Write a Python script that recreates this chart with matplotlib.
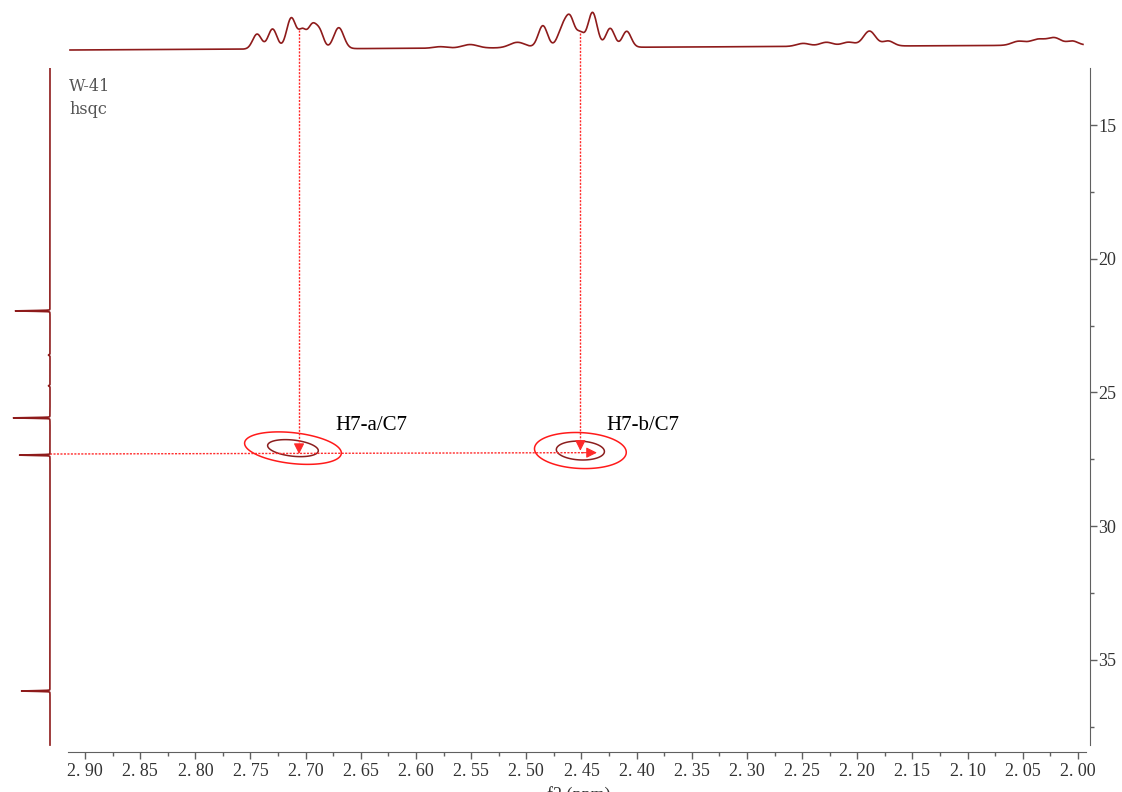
import numpy as np
import matplotlib
matplotlib.use("Agg")
import matplotlib.pyplot as plt
from matplotlib.ticker import MultipleLocator, FuncFormatter

plt.rcParams['font.family'] = ['Liberation Serif', 'DejaVu Serif']

# ---- data -----------------------------------------------------------------
# 1H projection (f2): peak positions (ppm), heights, widths (ppm, gaussian sigma)
h_pos = [2.744, 2.730, 2.713, 2.703, 2.694, 2.687, 2.670,
         2.578, 2.551, 2.508, 2.485, 2.467, 2.460, 2.451, 2.440, 2.424, 2.409,
         2.249, 2.228, 2.208, 2.189, 2.172, 2.054, 2.036, 2.021, 2.005]
h_amp = [15, 20, 31, 17, 23, 15, 21,
         1.5, 3.5, 5.5, 22, 19, 26, 13, 35, 19, 16,
         3, 4, 4, 15, 5, 4, 6, 7, 4]
h_wid = [0.0040, 0.0040, 0.0042, 0.0035, 0.0040, 0.0035, 0.0045,
         0.0060, 0.0070, 0.0070, 0.0042, 0.0045, 0.0040, 0.0035, 0.0042, 0.0040, 0.0040,
         0.0060, 0.0060, 0.0060, 0.0055, 0.0050, 0.0060, 0.0070, 0.0060, 0.0050]
h_drift = 5.4  # baseline rise across the window

# 13C projection (f1): peak positions (ppm), heights, widths
c_pos = [21.95, 23.60, 24.75, 25.95, 27.34, 36.16]
c_amp = [34, 1.5, 1.5, 36, 30, 28]
c_wid = [0.035, 0.05, 0.05, 0.035, 0.035, 0.035]

# HSQC cross peaks: f2 (ppm), f1 (ppm), sigma f2, sigma f1, correlation
cp_labels = ['H7-a/C7', 'H7-b/C7']
cp_f2 = [2.7115, 2.4510]
cp_f1 = [27.08, 27.17]
cp_sx = [0.0195, 0.0185]
cp_sy = [0.27, 0.30]
cp_rho = [-0.30, -0.10]
contour_levels = [0.08, 0.5]

# f1 correlation line used for the arrows
c7_shift = 27.30

x_major = 0.05
y_major = 5

# ---- figure layout --------------------------------------------------------
W, H = 1122, 792
fig = plt.figure(figsize=(W / 100, H / 100), dpi=100)

def fig_rect(x0, y0, x1, y1):
    return [x0 / W, 1 - y1 / H, (x1 - x0) / W, (y1 - y0) / H]

xlim = (2.9154, 1.9891)
ylim = (38.44, 12.869)

ax = fig.add_axes(fig_rect(68, 68, 1090, 752))
ax.set_xlim(*xlim)
ax.set_ylim(*ylim)

axis_color = '#606060'
for s in ['top', 'left']:
    ax.spines[s].set_visible(False)
ax.spines['bottom'].set_color(axis_color)
ax.spines['right'].set_color(axis_color)
ax.spines['bottom'].set_bounds(xlim[0], 1.9930)
ax.spines['right'].set_bounds(38.19, ylim[1])
ax.yaxis.tick_right()
ax.xaxis.set_major_locator(MultipleLocator(x_major))
ax.xaxis.set_minor_locator(MultipleLocator(x_major / 2))
ax.yaxis.set_major_locator(MultipleLocator(y_major))
ax.yaxis.set_minor_locator(MultipleLocator(y_major / 2))
ax.xaxis.set_major_formatter(FuncFormatter(lambda v, p: f"{v:.2f}".replace('.', '. ')))
ax.yaxis.set_major_formatter(FuncFormatter(lambda v, p: f"{v:.0f}"))
ax.tick_params(axis='both', which='major', direction='out', length=5,
               color=axis_color, labelcolor='#333333', labelsize=13, width=1)
ax.tick_params(axis='both', which='minor', direction='out', length=3,
               color=axis_color, width=1)
ax.tick_params(axis='x', which='both', pad=3)
ax.tick_params(axis='y', which='both', pad=1)
ax.set_xlabel('f2 (ppm)', fontsize=13, color='#333333', labelpad=4.5)

# ---- cross peaks ------------------------------------------------------------
gx = np.linspace(2.30, 2.85, 600)
gy = np.linspace(25.0, 29.5, 400)
X, Y = np.meshgrid(gx, gy)
Z = np.zeros_like(X)
for f2, f1, sx, sy, r in zip(cp_f2, cp_f1, cp_sx, cp_sy, cp_rho):
    dx = (X - f2) / sx
    dy = (Y - f1) / sy
    Z += np.exp(-(dx ** 2 - 2 * r * dx * dy + dy ** 2) / (2 * (1 - r ** 2)))
ax.contour(X, Y, Z, levels=contour_levels, colors=['#ff1a1a', '#8b1e1e'],
           linewidths=[1.1, 1.1])

# ---- correlation arrows -------------------------------------------------------
arrow_color = '#ff2a2a'
line_kw = dict(color=arrow_color, lw=1.0, linestyle=(0, (1.5, 1)), clip_on=False)
head_kw = dict(arrowstyle='-|>', color=arrow_color, lw=0.8, mutation_scale=16,
               shrinkA=0, shrinkB=0)

# vertical guides from the 1H projection
v_x = [2.706, 2.451]
v_top = [11.45, 11.56]
v_end = [27.30, 27.18]
for x, y0, y1 in zip(v_x, v_top, v_end):
    ax.plot([x, x], [y0, y1 - 0.3], **line_kw)
    ax.annotate('', xy=(x, y1), xytext=(x, y1 - 0.35), arrowprops=head_kw,
                annotation_clip=False)

# horizontal guide from the 13C projection
h_start, h_end = 2.9317, 2.436
ax.plot([h_start, h_end + 0.012], [c7_shift, c7_shift - 0.05], **line_kw)
ax.annotate('', xy=(h_end, c7_shift - 0.05), xytext=(h_end + 0.014, c7_shift - 0.05),
            arrowprops=head_kw, annotation_clip=False)

# cross-peak labels
lab_x = [2.6735, 2.4275]
lab_y = [26.24, 26.24]
for t, x, y in zip(cp_labels, lab_x, lab_y):
    ax.text(x, y, t, fontsize=15, color='black', ha='left', va='center')

# sample annotation
ax.text(0.001, 0.985, 'W-41\nhsqc', transform=ax.transAxes, fontsize=11.5,
        color='#555555', ha='left', va='top', linespacing=1.45,
        family=['DejaVu Serif'])

# ---- 1H projection (top) -----------------------------------------------------
spec_color = '#8e1b1b'
ax_top = fig.add_axes(fig_rect(68, 5, 1090, 60))
ax_top.set_xlim(*xlim)
ax_top.set_ylim(-12, 43)
ax_top.axis('off')
hx = np.linspace(2.9136, 1.9955, 3000)
hy = -(hx - 2.9136) * h_drift - 2.0
for p, a, w in zip(h_pos, h_amp, h_wid):
    hy += a * np.exp(-0.5 * ((hx - p) / w) ** 2)
ax_top.plot(hx, hy, color=spec_color, lw=1.2)

# ---- 13C projection (left) ---------------------------------------------------
ax_left = fig.add_axes(fig_rect(5, 68, 60, 752))
ax_left.set_ylim(*ylim)
ax_left.set_xlim(45, -10)
ax_left.axis('off')
cy = np.linspace(12.87, 38.18, 6000)
cx = np.zeros_like(cy)
for p, a, w in zip(c_pos, c_amp, c_wid):
    cx += a / (1 + ((cy - p) / w) ** 2) * 0.02 + a * np.exp(-0.5 * ((cy - p) / (w * 0.35)) ** 2)
ax_left.plot(cx, cy, color=spec_color, lw=1.2)

fig.savefig('out.png', dpi=100)
